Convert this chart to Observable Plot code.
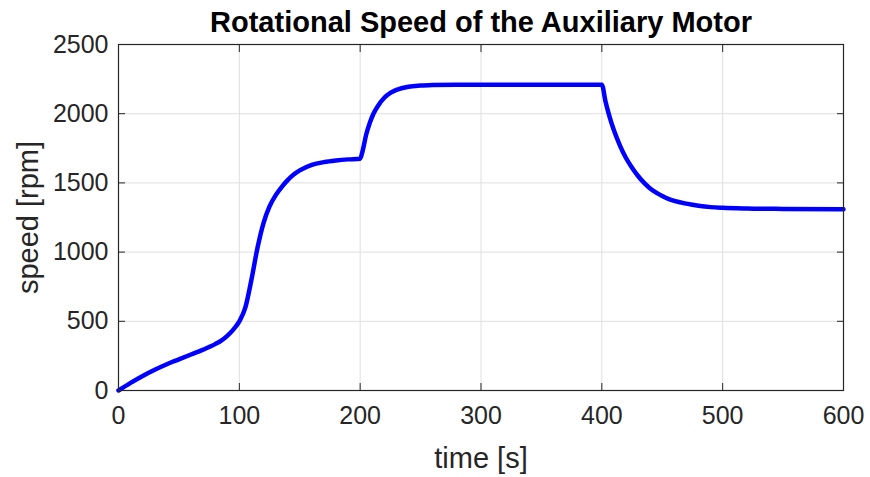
<!DOCTYPE html>
<html>
<head>
<meta charset="utf-8">
<script src="https://cdn.jsdelivr.net/npm/d3@7"></script>
<script src="https://cdn.jsdelivr.net/npm/@observablehq/plot@0.6"></script>
<style>
  html, body { margin: 0; padding: 0; background: #fff; }
  #chart { width: 870px; height: 477px; }
</style>
</head>
<body>
<div id="chart"></div>
<script>
const title = "Rotational Speed of the Auxiliary Motor";
const xLabel = "time [s]";
const yLabel = "speed [rpm]";
const xTicks = [0, 100, 200, 300, 400, 500, 600];
const yTicks = [0, 500, 1000, 1500, 2000, 2500];

const time = [0, 10, 20, 30, 40, 50, 60, 70, 80, 85, 90, 95, 100, 105, 110, 115, 120, 125, 130, 135, 140, 145, 150, 160, 170, 180, 190, 200,
  202, 205, 208, 211, 215, 220, 225, 230, 240, 250, 260, 280, 300, 350, 400,
  403, 406, 410, 415, 420, 425, 430, 435, 440, 445, 450, 455, 460, 470, 480, 490, 500, 520, 550, 600];
const speed = [0, 55, 105, 150, 190, 225, 260, 295, 335, 360, 395, 440, 500, 600, 800, 1030, 1210, 1330, 1410, 1470, 1520, 1560, 1590, 1630, 1650, 1662, 1670, 1675,
  1730, 1850, 1935, 2000, 2060, 2115, 2150, 2172, 2195, 2203, 2207, 2210, 2210, 2210, 2210,
  2090, 1990, 1880, 1770, 1680, 1610, 1550, 1500, 1460, 1430, 1405, 1385, 1370, 1350, 1335, 1325, 1320, 1315, 1312, 1310];

const data = time.map((t, i) => ({t, s: speed[i]}));

const font = "'Liberation Sans', Arial, Helvetica, sans-serif";
const ink = "#262626";
const fmt = d3.format("d");

const chart = Plot.plot({
  width: 870,
  height: 477,
  marginLeft: 118,
  marginRight: 27,
  marginTop: 44,
  marginBottom: 87,
  style: { fontFamily: font, background: "#fff", overflow: "visible" },
  x: { domain: [0, 600], ticks: xTicks, label: null },
  y: { domain: [0, 2500], ticks: yTicks, label: null },
  marks: [
    Plot.gridX(xTicks, { stroke: "#dfdfdf", strokeOpacity: 1, strokeWidth: 1 }),
    Plot.gridY(yTicks, { stroke: "#dfdfdf", strokeOpacity: 1, strokeWidth: 1 }),
    Plot.line(data, { x: "t", y: "s", stroke: "#0000ff", strokeWidth: 4.5, curve: "monotone-x" }),
    Plot.frame({ stroke: ink, strokeWidth: 1.2 }),
    Plot.axisX(xTicks, { anchor: "bottom", tickSize: -7, text: null, label: null, stroke: ink }),
    Plot.axisX(xTicks, { anchor: "top", tickSize: -7, text: null, label: null, stroke: ink }),
    Plot.axisY(yTicks, { anchor: "left", tickSize: -7, text: null, label: null, stroke: ink }),
    Plot.axisY(yTicks, { anchor: "right", tickSize: -7, text: null, label: null, stroke: ink }),
    Plot.axisX(xTicks, { anchor: "bottom", tickSize: 0, tickPadding: 16, fontSize: 25, fill: ink, label: null, tickFormat: fmt }),
    Plot.axisY(yTicks, { anchor: "left", tickSize: 0, tickPadding: 10, fontSize: 25, fill: ink, label: null, tickFormat: fmt }),
    Plot.text([xLabel], { frameAnchor: "bottom", dy: 77, fontSize: 29, fill: ink }),
    Plot.text([yLabel], { frameAnchor: "left", textAnchor: "middle", dx: -90, rotate: -90, fontSize: 29, fill: ink }),
    Plot.text([title], { frameAnchor: "top", dy: -33, fontSize: 29, fontWeight: "bold", fill: "#000" })
  ]
});
document.getElementById("chart").appendChild(chart);
</script>
</body>
</html>
